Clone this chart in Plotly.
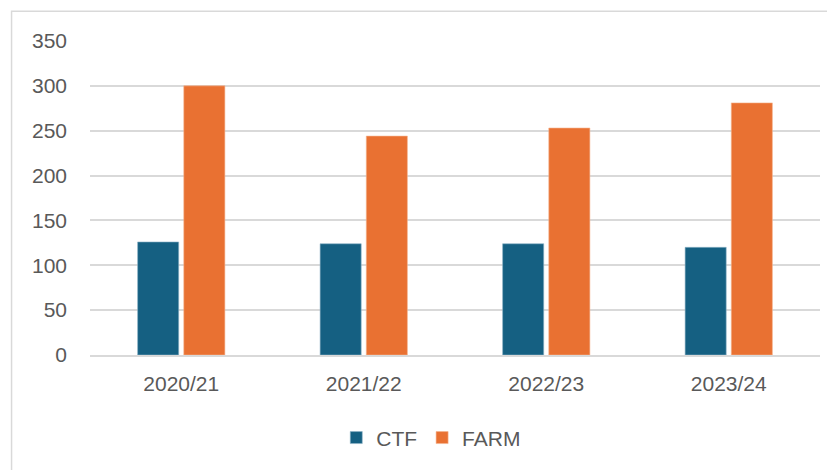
import plotly.graph_objects as go

categories = ["2020/21", "2021/22", "2022/23", "2023/24"]
ctf_values = [126, 124, 124, 120]
farm_values = [300, 244, 253, 281]
y_ticks = [0, 50, 100, 150, 200, 250, 300, 350]

# The page body has an 8px margin, so the figure is 8px smaller on each axis
OFF = 8
W, H = 835 - OFF, 470 - OFF
# plot area in page pixels: x 89.5..820, y 40.7..355
L, R = 89.5 - OFF, 835 - 820
T, B = 40.7 - OFF, 470 - 355
pw, ph = W - L - R, H - T - B

def px_x(p):
    return (p - OFF - L) / pw

def px_y(p):
    return (H - B - (p - OFF)) / ph

font = dict(family="Liberation Sans, Arial, sans-serif", size=21, color="#595959")

fig = go.Figure()
fig.add_trace(go.Bar(name="CTF", x=categories, y=ctf_values,
                     marker=dict(color="#156082", line=dict(color="#8fb3c8", width=0.6))))
fig.add_trace(go.Bar(name="FARM", x=categories, y=farm_values,
                     marker=dict(color="#E97132", line=dict(color="#f5b48f", width=0.6))))

fig.update_layout(
    width=W, height=H,
    margin=dict(l=L, r=R, t=T, b=B, pad=0),
    paper_bgcolor="white", plot_bgcolor="white",
    barmode="group", bargap=0.494, bargroupgap=0.11,
    font=font,
    showlegend=True,
    legend=dict(orientation="h", x=px_x(431), xanchor="center",
                y=px_y(438), yanchor="middle", font=font,
                itemwidth=30, tracegroupgap=0, bgcolor="rgba(0,0,0,0)"),
    shapes=[dict(type="rect", xref="paper", yref="paper",
                 x0=px_x(11), x1=px_x(870), y0=px_y(510), y1=px_y(11),
                 line=dict(color="#d9d9d9", width=1.5), fillcolor="rgba(0,0,0,0)",
                 layer="below")],
)
fig.update_yaxes(range=[0, 350], tickvals=y_ticks, showgrid=True,
                 gridcolor="#d9d9d9", gridwidth=1.5, zeroline=False,
                 showline=False, ticks="", ticklabelstandoff=22, tickfont=font)
fig.update_xaxes(showline=True, linecolor="#d9d9d9", linewidth=1.5,
                 ticks="", ticklabelstandoff=9, tickfont=font)

fig.write_html("out.html")
